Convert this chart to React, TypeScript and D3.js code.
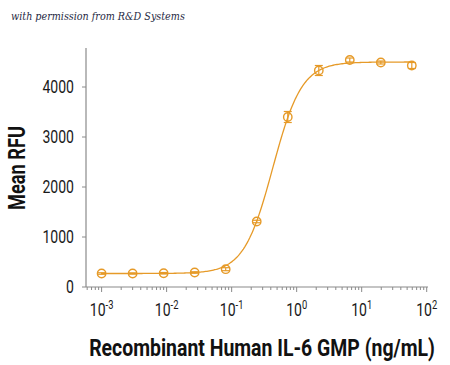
import React, { useEffect, useRef } from 'react';
import * as d3 from 'd3';

// concentrations (ng/mL) and mean RFU with error (SD)
const concentrations = [0.001, 0.003, 0.009, 0.027, 0.081, 0.243, 0.73, 2.19, 6.56, 19.7, 59];
const meanRfu = [270, 270, 275, 290, 356, 1310, 3400, 4330, 4540, 4490, 4430];
const errRfu = [15, 12, 15, 15, 30, 25, 110, 100, 40, 30, 60];

// 4-parameter logistic fit
const fitBottom = 270;
const fitTop = 4500;
const fitEC50 = 0.43;
const fitHill = 1.95;

const yTicks = [0, 1000, 2000, 3000, 4000];
const xDecades = [-3, -2, -1, 0, 1, 2];

const ORANGE = '#E69A28';
const AXIS = '#8a8a8a';
const FONT = 'Roboto, "Liberation Sans", sans-serif';
const SQUEEZE = 0.78;

// squeeze a text horizontally so that it spans the given width
const fitWidth = (sel: any, cx: number, cy: number, width: number, rotate = 0) => {
  const w = (sel.node() as SVGTextElement).getComputedTextLength();
  const s = Math.min(1, width / w);
  sel.attr('transform', `translate(${cx},${cy}) rotate(${rotate}) scale(${s},1)`);
};

const App = () => {
  const svgRef = useRef<SVGSVGElement>(null);

  useEffect(() => {
    const svg = d3.select(svgRef.current);
    svg.selectAll('*').remove();

    const x = d3.scaleLog().domain([Math.pow(10, -3.24), Math.pow(10, 2.02)]).range([86, 428]);
    const y = d3.scaleLinear().domain([0, 4000]).range([287, 87]);

    const note = svg.append('text')
      .attr('font-family', '"DejaVu Serif", serif')
      .attr('font-style', 'italic')
      .attr('font-size', 11)
      .attr('fill', '#1f2a44')
      .text('with permission from R&D Systems');
    fitWidth(note, 11, 20, 174);

    // y axis
    svg.append('line')
      .attr('x1', 86).attr('x2', 86)
      .attr('y1', 48).attr('y2', 287)
      .attr('stroke', AXIS).attr('stroke-width', 1.2);

    yTicks.forEach(t => {
      svg.append('line')
        .attr('x1', 82).attr('x2', 86)
        .attr('y1', y(t)).attr('y2', y(t))
        .attr('stroke', AXIS);
      svg.append('text')
        .attr('transform', `translate(74,${y(t) + 6}) scale(${SQUEEZE},1)`)
        .attr('text-anchor', 'end')
        .attr('font-family', FONT)
        .attr('font-size', 18)
        .attr('fill', '#1a1a1a')
        .text(t);
    });

    // x axis
    svg.append('line')
      .attr('x1', 86).attr('x2', 428)
      .attr('y1', 287).attr('y2', 287)
      .attr('stroke', AXIS).attr('stroke-width', 1.2);

    const [d0, d1] = x.domain();
    for (let e = -4; e <= 2; e++) {
      for (let m = 1; m <= 9; m++) {
        const v = m * Math.pow(10, e);
        if (v < d0 || v > d1) continue;
        svg.append('line')
          .attr('x1', x(v)).attr('x2', x(v))
          .attr('y1', 287).attr('y2', m === 1 ? 292 : 290)
          .attr('stroke', AXIS);
      }
    }

    xDecades.forEach(e => {
      const t = svg.append('text')
        .attr('transform', `translate(${x(Math.pow(10, e))},316) scale(${SQUEEZE},1)`)
        .attr('text-anchor', 'middle')
        .attr('font-family', FONT)
        .attr('font-size', 18)
        .attr('fill', '#1a1a1a');
      t.append('tspan').text('10');
      t.append('tspan').attr('font-size', 12).attr('dy', -7).text(e);
    });

    // fitted curve
    const fit = (c: number) => fitBottom + (fitTop - fitBottom) / (1 + Math.pow(fitEC50 / c, fitHill));
    const curveX = d3.range(-3, 1.78, 0.02).map(l => Math.pow(10, l));
    svg.append('path')
      .datum(curveX)
      .attr('fill', 'none')
      .attr('stroke', ORANGE)
      .attr('stroke-width', 1.3)
      .attr('d', d3.line<number>().x(c => x(c)).y(c => y(fit(c))));

    // error bars and points
    concentrations.forEach((c, i) => {
      const cx = x(c);
      const lo = y(meanRfu[i] - errRfu[i]);
      const hi = y(meanRfu[i] + errRfu[i]);
      const g = svg.append('g').attr('stroke', ORANGE).attr('stroke-width', 1.2).attr('fill', 'none');
      g.append('line').attr('x1', cx).attr('x2', cx).attr('y1', lo).attr('y2', hi);
      g.append('line').attr('x1', cx - 4).attr('x2', cx + 4).attr('y1', lo).attr('y2', lo);
      g.append('line').attr('x1', cx - 4).attr('x2', cx + 4).attr('y1', hi).attr('y2', hi);
      g.append('circle').attr('cx', cx).attr('cy', y(meanRfu[i])).attr('r', 4.2).attr('stroke-width', 1.4);
    });

    const yLabel = svg.append('text')
      .attr('text-anchor', 'middle')
      .attr('font-family', FONT)
      .attr('font-weight', 'bold')
      .attr('font-size', 23)
      .attr('fill', '#111')
      .text('Mean RFU');
    fitWidth(yLabel, 25, 168, 84, -90);

    const xLabel = svg.append('text')
      .attr('text-anchor', 'middle')
      .attr('font-family', FONT)
      .attr('font-weight', 'bold')
      .attr('font-size', 23)
      .attr('fill', '#111')
      .text('Recombinant Human IL-6 GMP (ng/mL)');
    fitWidth(xLabel, 262, 356, 346);
  }, []);

  return (
    <svg
      ref={svgRef}
      width={450}
      height={365}
      style={{ position: 'absolute', left: 0, top: 0, background: '#fff' }}
    />
  );
};

export default App;
